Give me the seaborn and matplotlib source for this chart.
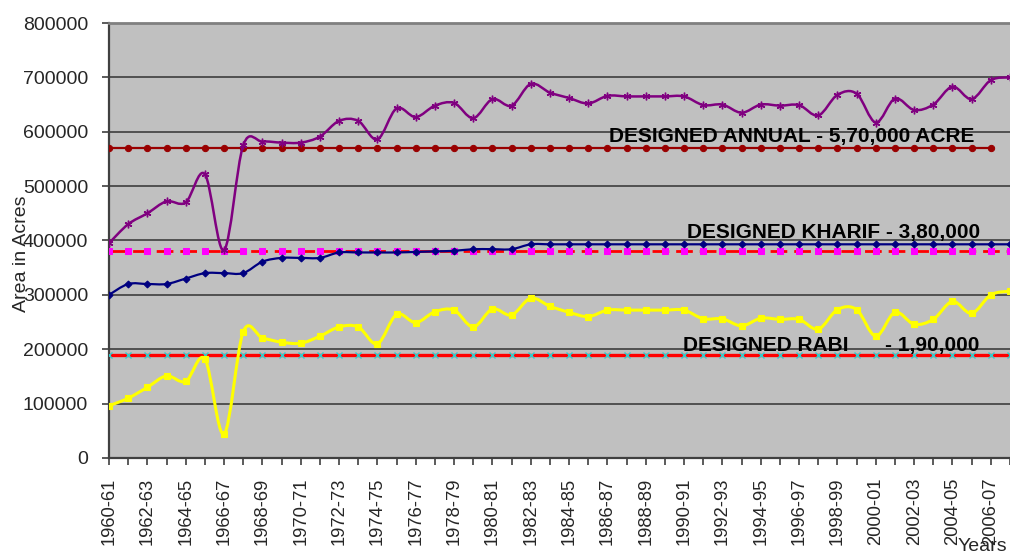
import numpy as np
import pandas as pd
import matplotlib
matplotlib.use("Agg")
import matplotlib.pyplot as plt
from matplotlib.path import Path
from matplotlib.patches import PathPatch
import seaborn as sns

# ---- data -------------------------------------------------------------
years = [
    "1960-61", "1961-62", "1962-63", "1963-64", "1964-65", "1965-66",
    "1966-67", "1967-68", "1968-69", "1969-70", "1970-71", "1971-72",
    "1972-73", "1973-74", "1974-75", "1975-76", "1976-77", "1977-78",
    "1978-79", "1979-80", "1980-81", "1981-82", "1982-83", "1983-84",
    "1984-85", "1985-86", "1986-87", "1987-88", "1988-89", "1989-90",
    "1990-91", "1991-92", "1992-93", "1993-94", "1994-95", "1995-96",
    "1996-97", "1997-98", "1998-99", "1999-00", "2000-01", "2001-02",
    "2002-03", "2003-04", "2004-05", "2005-06", "2006-07", "2007-08",
]

annual = [
    395000, 430000, 450000, 472000, 470000, 522000, 382000, 575000,
    582000, 580000, 580000, 591000, 620000, 620000, 586000, 643000,
    627000, 648000, 653000, 625000, 660000, 648000, 688000, 672000,
    662000, 652000, 666000, 665000, 665000, 665000, 665000, 649000,
    650000, 635000, 650000, 648000, 649000, 630000, 668000, 670000,
    617000, 661000, 640000, 650000, 683000, 660000, 695000, 700000,
]

kharif = [
    300000, 320000, 320000, 320000, 330000, 340000, 340000, 340000,
    361000, 368000, 368000, 368000, 378000, 378000, 378000, 378000,
    379000, 380000, 381000, 384000, 384000, 384000, 393000, 393000,
    393000, 393000, 393000, 393000, 393000, 393000, 393000, 393000,
    393000, 393000, 393000, 393000, 393000, 393000, 393000, 393000,
    393000, 393000, 393000, 393000, 393000, 393000, 393000, 393000,
]

rabi = [
    96000, 110000, 130000, 151000, 141000, 182000, 44000, 232000,
    221000, 213000, 211000, 224000, 241000, 241000, 210000, 264000,
    249000, 269000, 272000, 241000, 274000, 263000, 294000, 279000,
    268000, 260000, 272000, 272000, 272000, 272000, 272000, 256000,
    256000, 243000, 257000, 255000, 255000, 237000, 273000, 273000,
    224000, 268000, 246000, 255000, 288000, 266000, 300000, 307000,
]

designed_annual = 570000
designed_kharif = 380000
designed_rabi = 190000
designed_annual_years = 47  # the annual design line stops at 2006-07

# ---- styling ----------------------------------------------------------
sns.set_style("white")
plt.rcParams["font.family"] = ["Liberation Sans", "DejaVu Sans"]

fig = plt.figure(figsize=(10.10, 5.52), dpi=100)
ax = fig.add_axes([109 / 1010, 1 - 458 / 552, 1 - 109 / 1010, (458 - 23) / 552])
ax.set_facecolor("#C0C0C0")

idx = np.arange(len(years))


def smooth_path(xs, ys):
    """Cubic Bezier path through the points (Catmull-Rom style tangents)."""
    pts = np.column_stack([xs, ys]).astype(float)
    n = len(pts)
    verts = [pts[0]]
    codes = [Path.MOVETO]
    for i in range(n - 1):
        p0 = pts[i - 1] if i > 0 else pts[i]
        p1 = pts[i]
        p2 = pts[i + 1]
        p3 = pts[i + 2] if i + 2 < n else pts[i + 1]
        c1 = p1 + (p2 - p0) / 6.0
        c2 = p2 - (p3 - p1) / 6.0
        verts += [c1, c2, p2]
        codes += [Path.CURVE4] * 3
    return Path(verts, codes)


# designed levels
ann_df = pd.DataFrame({"x": idx[:designed_annual_years],
                       "y": [designed_annual] * designed_annual_years})
sns.lineplot(data=ann_df, x="x", y="y", ax=ax, color="#990000", lw=1.6,
             marker="o", markersize=4.5, markeredgecolor="#990000",
             markerfacecolor="#990000", zorder=3)

kh_df = pd.DataFrame({"x": idx, "y": [designed_kharif] * len(idx)})
sns.lineplot(data=kh_df, x="x", y="y", ax=ax, color="#FF0000", lw=2.0,
             dashes=False, zorder=3)
ax.lines[-1].set_dashes([6, 2.5])
sns.lineplot(data=kh_df, x="x", y="y", ax=ax, color="#FF00FF", lw=0,
             marker="s", markersize=5, markeredgecolor="#FF00FF",
             markerfacecolor="#FF00FF", zorder=3.1)

rb_df = pd.DataFrame({"x": idx, "y": [designed_rabi] * len(idx)})
sns.lineplot(data=rb_df, x="x", y="y", ax=ax, color="#FF0000", lw=2.4,
             marker="x", markersize=4, markeredgecolor="#33CCCC",
             markeredgewidth=1.0, zorder=3)

# actual areas: smoothed lines with markers
series = [
    (annual, "#800080", 1.8, (6, 2, 0), 5.5, 1.0),
    (kharif, "#000080", 1.6, "D", 3.5, 0.8),
    (rabi, "#FFFF00", 2.2, "s", 4.5, 0.8),
]
for vals, color, lw, mk, ms, mew in series:
    ax.add_patch(PathPatch(smooth_path(idx, vals), facecolor="none",
                           edgecolor=color, lw=lw, joinstyle="round",
                           capstyle="round", zorder=4))
    sdf = pd.DataFrame({"x": idx, "y": vals})
    sns.lineplot(data=sdf, x="x", y="y", ax=ax, color=color, lw=0,
                 marker=mk, markersize=ms, markeredgecolor=color,
                 markerfacecolor=color, markeredgewidth=mew, zorder=4.1)

# ---- labels on the designed levels -------------------------------------
lab_kw = dict(fontsize=15, fontweight="bold", color="black",
              va="center", ha="left", zorder=6)
ax.text(26.1, 592000, "DESIGNED ANNUAL - 5,70,000 ACRE", **lab_kw)
ax.text(30.15, 415500, "DESIGNED KHARIF - 3,80,000", **lab_kw)
ax.text(29.94, 206000, "DESIGNED RABI", **lab_kw)
ax.text(40.49, 206000, "- 1,90,000", **lab_kw)

# ---- axes ---------------------------------------------------------------
ax.set_xlim(0, 46.83)
ax.set_ylim(0, 800000)
ax.set_yticks(np.arange(0, 800001, 100000))
ax.set_yticklabels([f"{v:d}" for v in range(0, 800001, 100000)])
ax.set_xticks(idx)
ax.set_xticklabels([y if i % 2 == 0 else "" for i, y in enumerate(years)],
                   rotation=90)
ax.yaxis.grid(True, color="#333333", lw=1.1)
ax.xaxis.grid(False)
ax.set_axisbelow(True)
ax.tick_params(axis="y", direction="out", length=5, width=1.2,
               color="#404040", pad=10, labelsize=14, left=True)
ax.tick_params(axis="x", direction="out", length=5, width=1.2,
               color="#404040", pad=9, labelsize=13.2, bottom=True)
ax.set_xlabel("")
ax.set_ylabel("")
ax.spines["top"].set_color("#808080")
ax.spines["top"].set_linewidth(2)
ax.spines["left"].set_color("#404040")
ax.spines["left"].set_linewidth(1.6)
ax.spines["bottom"].set_color("#404040")
ax.spines["bottom"].set_linewidth(1.6)
ax.spines["right"].set_visible(False)

fig.text(22 / 1010, 1 - 254 / 552, "Area in Acres", rotation=90,
         fontsize=14, ha="center", va="center")
fig.text(958 / 1010, 1 / 552, "Years", fontsize=14, ha="left",
         va="baseline")

fig.savefig("out.png", dpi=100)
